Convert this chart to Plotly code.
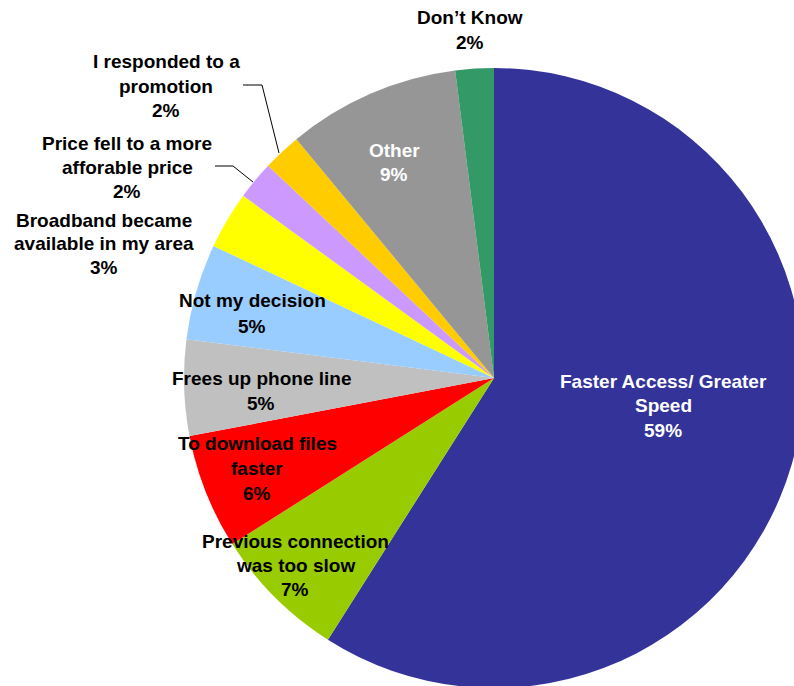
import plotly.graph_objects as go

# ---- data ----
categories = [
    "Faster Access/ Greater Speed",
    "Previous connection was too slow",
    "To download files faster",
    "Frees up phone line",
    "Not my decision",
    "Broadband became available in my area",
    "Price fell to a more afforable price",
    "I responded to a promotion",
    "Other",
    "Don\u2019t Know",
]
values = [59, 7, 6, 5, 5, 3, 2, 2, 9, 2]
label_lines = [
    ["Faster Access/ Greater", "Speed"],
    ["Previous connection", "was too slow"],
    ["To download files", "faster"],
    ["Frees up phone line"],
    ["Not my decision"],
    ["Broadband became", "available in my area"],
    ["Price fell to a more", "afforable price"],
    ["I responded to a", "promotion"],
    ["Other"],
    ["Don\u2019t Know"],
]
colors = ["#333399", "#99CC00", "#FF0000", "#C0C0C0", "#99CCFF",
          "#FFFF00", "#CC99FF", "#FFCC00", "#969696", "#339966"]

# ---- layout geometry (pixels) ----
W, H = 820, 700
CX, CY, R = 494, 378, 310

# label placement: (center x, first line y, line spacing, font color)
label_pos = [
    (663, 381, 24.5, "white"),
    (295, 541, 24, "black"),
    (257, 444, 24.5, "black"),
    (261, 378, 25, "black"),
    (252, 300, 26, "black"),
    (104, 220, 24, "black"),
    (127, 143, 24.5, "black"),
    (166, 62, 24, "black"),
    (394, 150, 24, "white"),
    (470, 18, 25, "black"),
]

def px(x):
    return x / W

def py(y):
    return 1 - y / H

fig = go.Figure(go.Pie(
    labels=categories,
    values=values,
    sort=False,
    direction="clockwise",
    rotation=0,
    marker=dict(colors=colors, line=dict(width=0)),
    textinfo="none",
    hoverinfo="label+percent",
    showlegend=False,
    domain=dict(x=[px(CX - R), px(CX + R)], y=[py(CY + R), py(CY - R)]),
))

annotations = []
for lines, v, (x, y0, sp, col) in zip(label_lines, values, label_pos):
    all_lines = lines + [f"{v}%"]
    for i, t in enumerate(all_lines):
        annotations.append(dict(
            x=px(x), y=py(y0 + i * sp), xref="paper", yref="paper",
            text=t, showarrow=False, xanchor="center", yanchor="middle",
            font=dict(family="Liberation Sans, Arial, sans-serif", size=19,
                      color=col, weight="bold"),
        ))

# leader lines
leaders = [
    [(243, 85), (262, 85), (279, 153)],
    [(215, 166), (233, 166), (253, 182)],
]
shapes = []
for pts in leaders:
    path = "M " + " L ".join(f"{px(a)},{py(b)}" for a, b in pts)
    shapes.append(dict(type="path", xref="paper", yref="paper", path=path,
                       line=dict(color="black", width=1)))

fig.update_layout(
    width=W, height=H,
    margin=dict(l=0, r=0, t=0, b=0),
    paper_bgcolor="white", plot_bgcolor="white",
    annotations=annotations, shapes=shapes,
)

fig.write_html(
    "out.html",
    config={"displayModeBar": False},
    post_script="document.body.style.margin='0';document.body.style.overflow='hidden';document.documentElement.style.overflow='hidden';",
)
